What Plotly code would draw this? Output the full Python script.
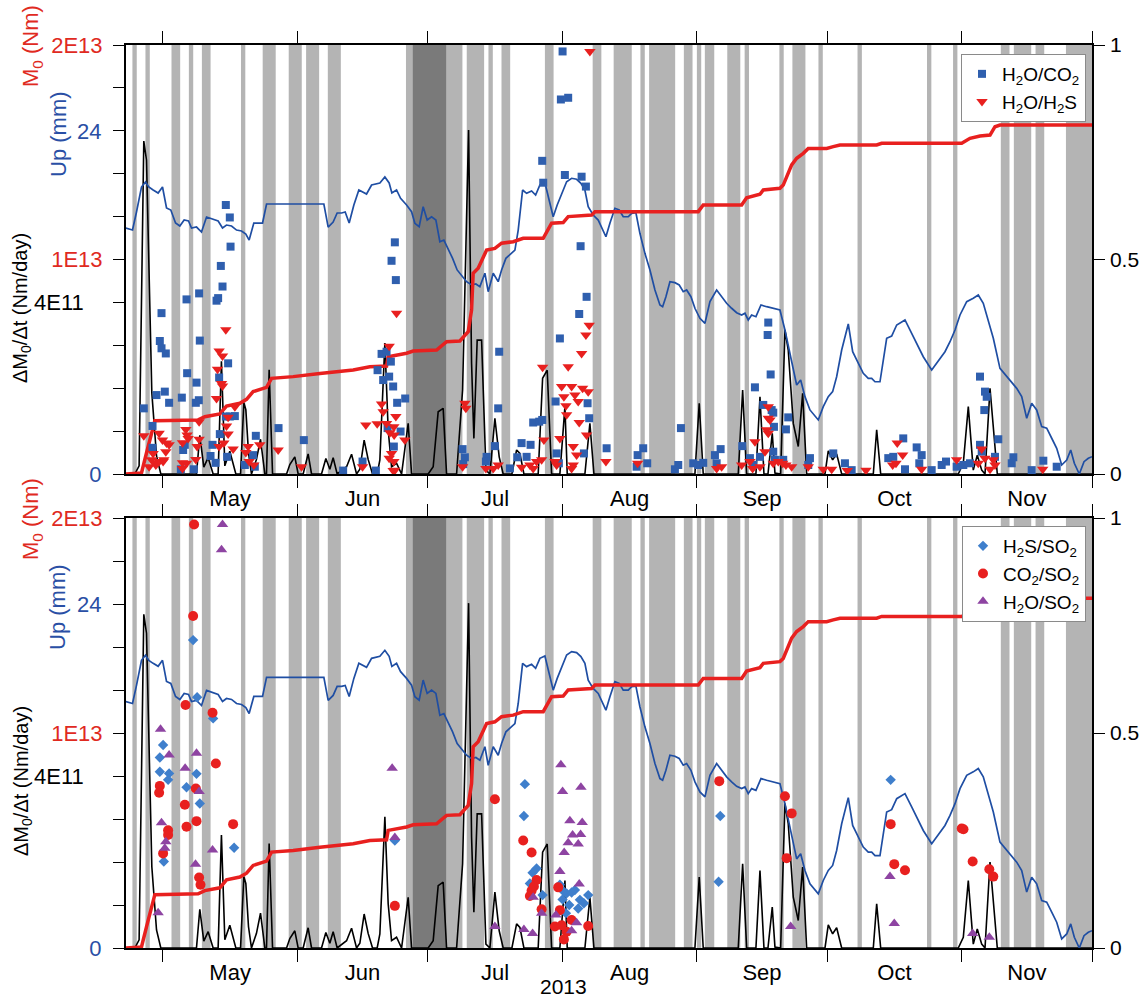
import pandas as pd
import plotly.graph_objects as go

# ---------------- data (days counted from 2013-05-01) ----------------
UP_DAY = [-8.52, -6.98, -6.06, -4.91, -3.99, -3.23, -2.23, -1.08, -0.07, 0.85,
          1.84, 2.93, 3.92, 4.91, 5.92, 6.61, 7.76, 8.91, 10.07, 11.22,
          12.74, 13.75, 14.67, 15.83, 16.98, 18.13, 19.12, 19.88, 20.96, 22.97,
          23.89, 37.09, 38.08, 39.23, 40.15, 41.17, 42.0, 42.92, 44.0, 45.15,
          46.14, 46.92, 48.08, 49.07, 49.99, 51.14, 52.13, 52.75, 53.83, 54.76,
          56.14, 57.29, 58.05, 59.04, 59.96, 60.88, 61.9, 62.89, 63.81, 64.73,
          65.72, 66.74, 67.79, 68.65, 69.96, 71.11, 72.1, 73.02, 74.18, 74.94,
          76.09, 77.24, 78.02, 79.01, 79.94, 81.09, 81.85, 82.86, 83.78, 84.93,
          85.86, 86.85, 88.0, 88.76, 89.91, 90.83, 91.85, 93.0, 94.15, 95.3,
          96.29, 97.21, 97.97, 99.12, 100.28, 101.29, 102.05, 102.97, 104.12, 105.11,
          106.04, 107.19, 107.97, 108.96, 109.88, 111.03, 112.19, 113.34, 114.49, 115.11,
          115.87, 116.79, 117.94, 118.93, 119.86, 120.64, 121.63, 122.55, 123.7, 124.86,
          126.01, 127.55, 128.7, 129.85, 131.0, 132.16, 133.31, 134.07, 134.83, 135.61,
          136.6, 137.76, 139.07, 140.59, 142.13, 143.28, 144.83, 145.98, 146.9, 147.89,
          149.04, 150.96, 152.11, 153.26, 154.27, 155.19, 156.35, 157.87, 158.88, 159.94,
          161.32, 162.47, 163.26, 164.02, 165.17, 166.71, 167.86, 169.02, 170.93, 172.47,
          173.62, 175.14, 177.08, 178.99, 180.14, 181.3, 182.45, 183.6, 185.14, 186.66,
          187.81, 188.96, 190.12, 191.27, 192.81, 194.72, 196.66, 197.81, 198.96, 200.11,
          201.26, 202.42, 203.57, 204.72, 205.87, 207.02, 208.18, 209.1, 209.93, 211.08,
          212.16, 213.15, 214.0]
UP_MM = [17.2, 17.06, 18.32, 20.07, 20.42, 20.07, 19.86, 19.65, 20.07, 18.6,
         18.46, 17.55, 17.34, 17.76, 17.69, 17.2, 17.27, 16.92, 17.97, 17.83,
         17.69, 17.2, 17.41, 17.34, 17.06, 16.99, 16.78, 16.36, 17.55, 17.55,
         18.88, 18.88, 17.27, 17.62, 18.25, 18.25, 18.32, 17.55, 18.81, 19.86,
         19.72, 19.58, 20.21, 20.28, 20.35, 20.77, 20.35, 19.65, 19.86, 19.28,
         18.81, 18.34, 17.53, 17.29, 18.69, 17.76, 17.99, 17.76, 16.24, 16.36,
         15.78, 15.08, 14.27, 13.92, 13.45, 13.22, 13.29, 13.1, 14.04, 12.75,
         14.04, 13.45, 14.27, 15.08, 15.31, 15.66, 17.06, 19.86, 19.63, 19.79,
         19.51, 20.21, 20.37, 19.39, 17.99, 18.81, 19.63, 20.44, 20.68, 20.61,
         20.33, 19.86, 18.69, 18.11, 17.76, 17.06, 16.59, 17.53, 18.58, 18.46,
         17.99, 17.99, 18.23, 18.27, 16.83, 15.43, 14.27, 12.87, 11.82, 11.7,
         12.4, 13.45, 13.38, 13.22, 12.75, 12.87, 12.4, 11.59, 10.89, 10.54,
         12.05, 12.87, 12.4, 11.94, 11.59, 11.28, 11.12, 11.24, 10.77, 11.12,
         11.0, 11.82, 11.7, 11.59, 11.47, 10.07, 7.74, 6.22, 6.57, 5.41,
         4.48, 3.78, 4.71, 5.41, 5.76, 6.8, 8.67, 10.49, 8.55, 7.85,
         7.04, 6.69, 6.69, 6.45, 6.45, 9.49, 9.65, 10.42, 10.77, 9.84,
         9.14, 8.2, 7.27, 8.09, 8.55, 9.25, 10.07, 11.12, 12.05, 12.29,
         12.52, 11.94, 10.77, 9.49, 7.39, 6.69, 5.99, 5.41, 3.9, 4.94,
         4.48, 3.31, 3.2, 2.5, 1.8, 0.63, 0.98, 1.68, 0.75, 0.0,
         0.86, 1.1, 1.21]

M0_DAY = [-8.52, -4.91, -3.76, -2.6, -1.84, 8.13, 9.67, 13.13, 14.67, 17.74,
          19.28, 20.8, 23.89, 25.04, 30.02, 36.17, 43.84, 47.68, 51.53, 51.9,
          56.14, 57.66, 63.05, 65.35, 68.42, 70.33, 71.11, 71.48, 72.63, 74.57,
          76.48, 78.02, 80.7, 83.0, 87.61, 89.54, 92.21, 93.36, 98.76, 99.52,
          123.31, 124.46, 133.31, 134.46, 137.53, 138.29, 142.13, 142.89, 144.83, 145.98,
          147.5, 148.65, 152.89, 154.41, 155.95, 164.41, 165.56, 183.99, 185.9, 188.21,
          190.51, 191.66, 192.81, 214.0]
M0_E13 = [0, 0.005, 0.098, 0.19, 0.248, 0.252, 0.267, 0.28, 0.317, 0.33,
          0.348, 0.384, 0.404, 0.446, 0.454, 0.469, 0.485, 0.5, 0.503, 0.547,
          0.563, 0.573, 0.578, 0.617, 0.62, 0.663, 0.765, 0.936, 0.959, 1.044,
          1.052, 1.076, 1.083, 1.099, 1.099, 1.169, 1.172, 1.2, 1.207, 1.223,
          1.223, 1.254, 1.254, 1.288, 1.304, 1.324, 1.332, 1.347, 1.441, 1.472,
          1.495, 1.518, 1.518, 1.526, 1.534, 1.534, 1.542, 1.542, 1.565, 1.576,
          1.58, 1.619, 1.627, 1.627]

RATE_DAY = [-8.52, -6.45, -5.46, -4.38, -3.76, -3.16, -2.53, -1.45, -0.46, 7.75,
            8.52, 9.44, 10.44, 11.59, 12.74, 13.5, 14.28, 15.43, 16.2, 16.82,
            17.9, 18.66, 19.12, 19.73, 20.42, 21.57, 22.5, 23.5, 23.88, 24.49,
            25.27, 28.5, 29.25, 30.4, 31.17, 32.32, 33.47, 34.25, 36.55, 37.55,
            38.47, 39.23, 40.15, 41.16, 42.32, 43.47, 44.62, 45.38, 46.37, 47.29,
            48.3, 49.37, 49.99, 51.14, 51.9, 52.68, 53.83, 54.99, 56.51, 57.29,
            61.12, 62.27, 63.42, 64.57, 65.35, 67.66, 69.04, 70.42, 71.11, 71.64,
            72.4, 73.42, 74.41, 75.33, 76.48, 77.47, 78.39, 80.4, 81.48, 82.24,
            83.16, 86.45, 87.47, 88.53, 89.54, 91.45, 92.61, 93.14, 97.21, 98.36,
            99.29, 122.55, 123.54, 124.46, 132.53, 133.54, 134.46, 136.6, 137.53, 138.45,
            139.37, 140.36, 140.98, 142.29, 143.28, 144.04, 145.2, 146.35, 147.36, 148.28,
            152.5, 153.26, 154.27, 155.19, 156.35, 163.63, 164.41, 165.33, 183.2, 184.36,
            185.51, 186.66, 187.58, 188.6, 189.36, 190.51, 191.27, 192.19, 214.0]
RATE_E11 = [0, 0, 0.19, 7.76, 7.32, 4.99, 1.89, 0.42, 0, 0,
            0.9, 0.16, 0.38, 0, 0, 2.63, 0.19, 0.53, 0.26, 0,
            0, 1.66, 1.5, 0.5, 0, 0.34, 0.81, 0, 0, 2.43,
            0, 0, 0.22, 0.4, 0, 0, 0.47, 0, 0, 0.36,
            0.11, 0.38, 0, 0.07, 0.17, 0.46, 0, 0.11, 0.79, 0.34,
            0, 0, 0.33, 3.05, 1.03, 0.17, 0.25, 0, 1.18, 0,
            0, 0.17, 1.45, 1.53, 0, 0, 1.96, 8.02, 2.58, 0.83,
            3.12, 3.12, 0.09, 0, 1.3, 0.4, 0, 0, 0.56, 0.48,
            0, 0, 2.23, 2.42, 0, 0, 1.57, 0, 0, 1.18,
            0, 0, 1.65, 0, 0, 1.96, 0, 0, 1.8, 0,
            0, 0.95, 0.02, 0, 3.36, 2.89, 1.18, 0.64, 1.88, 0,
            0, 0.54, 0.33, 0.47, 0, 0, 1.03, 0, 0, 0.25,
            1.57, 0.09, 0.44, 0.09, 0, 2.0, 1.03, 0, 0]

# ratio scatter series: (day, ratio)
H2O_CO2 = [(13.75, 0.437), (8.36, 0.421), (5.46, 0.407), (12.37, 0.404), (12.74, 0.41), (-0.3, 0.375),
           (8.52, 0.311), (-0.69, 0.31), (-0.3, 0.293), (0.69, 0.281), (5.6, 0.235), (7.76, 0.213),
           (15.04, 0.258), (12.97, 0.225), (-1.45, 0.184), (0.46, 0.192), (1.45, 0.166), (4.38, 0.178),
           (7.6, 0.166), (8.29, 0.172), (-4.38, 0.153), (-2.37, 0.112), (21.42, 0.089), (26.65, 0.107),
           (32.48, 0.079), (13.13, 0.093), (11.45, 0.068), (10.99, 0.042), (12.14, 0.026), (14.81, 0.04),
           (4.68, 0.056), (5.07, 0.068), (7.14, 0.011), (4.15, 0.011), (-2.37, 0.061), (15.43, 0.134),
           (16.59, 0.135), (14.51, 0.134), (53.67, 0.452), (50.38, 0.28), (51.53, 0.285), (52.52, 0.262),
           (49.46, 0.242), (50.75, 0.219), (52.13, 0.227), (53.05, 0.204), (53.97, 0.166), (55.82, 0.176),
           (54.76, 0.099), (53.21, 0.064), (51.76, 0.107), (46.0, 0.029), (49.07, 0.008), (41.53, 0.008),
           (20.8, 0.044), (21.19, 0.017), (18.89, 0.021), (14.51, 0.627), (15.43, 0.598), (15.6, 0.53),
           (13.36, 0.485), (53.44, 0.54), (52.68, 0.497), (77.47, 0.285), (77.24, 0.153), (76.48, 0.065),
           (74.57, 0.04), (69.04, 0.058), (69.57, 0.039), (69.18, 0.023), (74.41, 0.029), (79.93, 0.013),
           (82.63, 0.072), (84.7, 0.068), (81.62, 0.039), (83.78, 0.04), (85.3, 0.12), (86.69, 0.122),
           (87.38, 0.126), (87.38, 0.73), (87.61, 0.679), (90.46, 0.169), (91.45, 0.316), (92.07, 0.985),
           (91.68, 0.873), (93.36, 0.877), (92.6, 0.697), (96.45, 0.693), (97.44, 0.67), (96.22, 0.531),
           (97.6, 0.413), (95.9, 0.373), (97.83, 0.165), (98.2, 0.13), (90.69, 0.048), (91.22, 0.025),
           (96.98, 0.048), (102.21, 0.06), (109.35, 0.044), (110.64, 0.06), (111.56, 0.025), (109.12, 0.017),
           (119.33, 0.107), (118.71, 0.021), (117.94, 0.011), (122.16, 0.025), (123.31, 0.021), (124.46, 0.026),
           (127.16, 0.044), (128.47, 0.058), (127.55, 0.025), (133.45, 0.065), (136.37, 0.202), (139.44, 0.353),
           (139.3, 0.324), (139.99, 0.232), (138.29, 0.161), (140.22, 0.149), (135.22, 0.037), (135.98, 0.021),
           (137.53, 0.04), (140.59, 0.143), (140.75, 0.11), (144.04, 0.132), (143.51, 0.104), (140.59, 0.052),
           (140.98, 0.033), (142.89, 0.033), (149.04, 0.037), (148.65, 0.021), (154.41, 0.048), (157.1, 0.025),
           (158.65, 0.009), (167.08, 0.037), (168.23, 0.04), (170.53, 0.083), (173.62, 0.062), (174.77, 0.044),
           (174.22, 0.025), (170.93, 0.011), (177.08, 0.009), (179.38, 0.021), (180.37, 0.029), (182.83, 0.017),
           (184.36, 0.021), (185.9, 0.025), (188.2, 0.227), (189.36, 0.192), (189.75, 0.18), (189.2, 0.149),
           (188.2, 0.068), (188.6, 0.052), (192.42, 0.081), (191.66, 0.04), (195.88, 0.039), (195.51, 0.025),
           (200.11, 0.009), (202.79, 0.031), (205.87, 0.017)]

H2O_H2S = [(14.51, 0.336), (12.97, 0.287), (13.75, 0.275), (12.6, 0.244), (13.75, 0.205), (12.37, 0.176),
           (16.59, 0.157), (15.04, 0.132), (14.67, 0.112), (15.04, 0.093), (14.05, 0.072), (16.19, 0.058),
           (12.97, 0.064), (8.36, 0.122), (5.3, 0.104), (5.6, 0.091), (8.36, 0.081), (7.9, 0.064),
           (7.6, 0.034), (4.54, 0.073), (4.54, 0.026), (4.54, 0.013), (5.46, 0.025), (1.45, 0.068),
           (0.69, 0.052), (-0.85, 0.095), (-0.07, 0.079), (-4.38, 0.089), (-2.23, 0.048), (-3.16, 0.017),
           (-0.85, 0.029), (-1.61, 0.021), (0.07, 0.029), (19.65, 0.064), (19.12, 0.05), (20.96, 0.021),
           (19.88, 0.029), (22.34, 0.068), (26.56, 0.056), (31.95, 0.017), (46.0, 0.017), (46.76, 0.114),
           (49.37, 0.117), (50.38, 0.163), (50.75, 0.145), (52.13, 0.298), (53.83, 0.375), (51.53, 0.118),
           (53.21, 0.11), (53.67, 0.134), (52.29, 0.096), (53.28, 0.091), (55.75, 0.079), (52.68, 0.048),
           (53.21, 0.029), (52.13, 0.037), (53.44, 0.009), (-2.6, 0.033), (-1.45, 0.025), (0.23, 0.033),
           (0.85, 0.072), (5.83, 0.083), (13.52, 0.211), (53.05, 0.008), (98.36, 0.985), (69.57, 0.165),
           (69.8, 0.153), (69.04, 0.017), (74.41, 0.013), (76.09, 0.013), (77.24, 0.021), (82.63, 0.016),
           (84.54, 0.021), (86.08, 0.029), (87.24, 0.033), (85.3, 0.013), (87.47, 0.249), (87.77, 0.079),
           (90.69, 0.021), (91.45, 0.083), (90.3, 0.029), (91.85, 0.204), (93.36, 0.25), (92.37, 0.18),
           (92.84, 0.159), (93.0, 0.138), (94.15, 0.204), (94.91, 0.184), (95.67, 0.169), (96.68, 0.2),
           (97.97, 0.192), (95.9, 0.12), (97.6, 0.091), (94.52, 0.064), (95.3, 0.044), (94.52, 0.021),
           (94.15, 0.013), (96.45, 0.281), (97.44, 0.324), (98.2, 0.347), (102.05, 0.029), (109.35, 0.025),
           (127.55, 0.013), (128.7, 0.017), (133.31, 0.021), (135.22, 0.029), (136.37, 0.075), (135.84, 0.013),
           (137.53, 0.017), (138.68, 0.052), (139.44, 0.157), (139.44, 0.13), (139.44, 0.095), (139.83, 0.126),
           (139.07, 0.103), (140.59, 0.025), (141.75, 0.029), (142.76, 0.025), (143.51, 0.021), (144.83, 0.017),
           (148.65, 0.017), (152.11, 0.011), (154.04, 0.011), (157.63, 0.008), (161.94, 0.009), (169.15, 0.072),
           (170.39, 0.044), (168.09, 0.021), (168.85, 0.025), (174.77, 0.011), (182.83, 0.033), (188.6, 0.058),
           (189.36, 0.037), (187.81, 0.025), (191.27, 0.033), (191.66, 0.021), (190.51, 0.011), (202.65, 0.011)]

H2S_SO2 = [(6.98, 0.716), (7.9, 0.583), (11.59, 0.534), (0.07, 0.472), (-0.69, 0.443), (-0.69, 0.41),
           (1.45, 0.406), (1.22, 0.391), (5.46, 0.374), (7.76, 0.405), (8.52, 0.336), (0.23, 0.201),
           (16.42, 0.233), (53.44, 0.25), (83.39, 0.381), (83.16, 0.307), (86.08, 0.185), (85.16, 0.175),
           (84.54, 0.15), (87.47, 0.123), (91.45, 0.147), (92.07, 0.113), (93.0, 0.127), (94.15, 0.129),
           (94.91, 0.135), (96.06, 0.112), (96.98, 0.104), (97.97, 0.123), (93.6, 0.1), (92.84, 0.081),
           (94.15, 0.065), (128.39, 0.307), (128.0, 0.154), (92.37, 0.131), (95.67, 0.092), (167.63, 0.391)]

CO2_SO2 = [(7.21, 0.985), (6.98, 0.772), (5.23, 0.565), (11.45, 0.547), (12.21, 0.429), (-0.69, 0.377),
           (-0.85, 0.361), (5.07, 0.333), (7.6, 0.371), (5.46, 0.282), (7.76, 0.295), (16.19, 0.288),
           (1.22, 0.274), (1.22, 0.263), (0.07, 0.22), (8.36, 0.164), (8.68, 0.147), (53.44, 0.098),
           (76.48, 0.346), (83.0, 0.25), (84.93, 0.222), (86.08, 0.158), (85.46, 0.143), (84.93, 0.133),
           (84.54, 0.121), (87.24, 0.09), (91.06, 0.141), (91.45, 0.088), (90.3, 0.05), (91.85, 0.053),
           (94.15, 0.065), (93.0, 0.038), (92.37, 0.02), (97.97, 0.051), (128.15, 0.388), (143.28, 0.353),
           (144.83, 0.313), (143.67, 0.209), (167.63, 0.288), (168.46, 0.195), (170.93, 0.181), (183.99, 0.278),
           (184.4, 0.276), (186.52, 0.201), (190.35, 0.183), (191.27, 0.166)]

H2O_SO2 = [(13.75, 0.985), (13.52, 0.926), (-0.53, 0.509), (1.45, 0.449), (5.14, 0.418), (7.76, 0.453),
           (8.36, 0.364), (-0.3, 0.291), (0.69, 0.247), (0.46, 0.232), (7.53, 0.195), (11.45, 0.228),
           (-1.08, 0.082), (52.82, 0.418), (53.44, 0.257), (91.68, 0.426), (92.07, 0.364), (96.29, 0.374),
           (93.75, 0.296), (96.59, 0.292), (94.38, 0.263), (96.22, 0.264), (93.36, 0.245), (95.67, 0.242),
           (92.44, 0.222), (91.45, 0.178), (95.9, 0.149), (85.3, 0.118), (87.24, 0.081), (90.53, 0.077),
           (95.3, 0.059), (94.15, 0.04), (76.48, 0.05), (83.16, 0.043), (85.16, 0.034), (144.6, 0.05),
           (167.47, 0.166), (168.46, 0.057), (186.52, 0.034), (190.35, 0.025)]

BANDS_LIGHT = [("2013-04-24", "2013-04-25"), ("2013-04-27", "2013-04-28"), ("2013-05-03", "2013-05-05"),
               ("2013-05-07", "2013-05-08"), ("2013-05-10", "2013-05-12"), ("2013-05-19", "2013-05-20"),
               ("2013-05-24", "2013-05-27"), ("2013-05-30", "2013-06-02"), ("2013-06-03", "2013-06-06"),
               ("2013-06-08", "2013-06-11"), ("2013-06-26", "2013-06-27 12:00"),
               ("2013-07-05 08:00", "2013-07-09"), ("2013-07-10", "2013-07-14"), ("2013-07-15", "2013-07-16"),
               ("2013-07-18", "2013-07-20"), ("2013-07-28", "2013-07-30"), ("2013-08-08", "2013-08-10"),
               ("2013-08-12 20:00", "2013-08-17"), ("2013-08-19", "2013-08-20"), ("2013-08-21", "2013-08-27"),
               ("2013-08-29", "2013-08-31"), ("2013-09-01", "2013-09-02"), ("2013-09-02 20:00", "2013-09-05"),
               ("2013-09-08", "2013-09-11"), ("2013-09-12", "2013-09-13"), ("2013-09-20", "2013-09-21"),
               ("2013-09-23", "2013-09-26"), ("2013-09-29", "2013-09-30"), ("2013-10-08", "2013-10-09"),
               ("2013-10-24", "2013-10-25"), ("2013-10-30", "2013-10-31"), ("2013-11-10", "2013-11-12"),
               ("2013-11-13", "2013-11-17"), ("2013-11-18", "2013-11-20"), ("2013-11-25", "2013-12-01")]
BANDS_DARK = [("2013-06-27 12:00", "2013-07-05 08:00")]

MONTH_TICK0 = "2013-05-01"
X_RANGE = ["2013-04-22 12:30", "2013-12-01"]

# ---------------- styling ----------------
FONT = "Liberation Sans, Arial, Helvetica, sans-serif"
C_BLUE_LINE = "#1f4ea3"
C_BLUE_SQ = "#2f5fae"
C_BLUE_DI = "#3f7fcc"
C_RED = "#e8201f"
C_PURPLE = "#8e44a2"
C_LIGHT = "#b4b4b4"
C_DARK = "#7a7a7a"
C_LBL_RED = "#e02a1f"
C_LBL_BLUE = "#2a4fa5"
FS = 22

T0 = pd.Timestamp("2013-05-01")


def to_dates(days):
    return [T0 + pd.Timedelta(days=float(d)) for d in days]


fig = go.Figure()

panels = [
    dict(x="x", base="y", up="y2", m0="y3", ratio="y4",
         series=[(H2O_CO2, "H<sub>2</sub>O/CO<sub>2</sub>", "square", C_BLUE_SQ, 8),
                 (H2O_H2S, "H<sub>2</sub>O/H<sub>2</sub>S", "triangle-down", C_RED, 10)],
         legend="legend"),
    dict(x="x2", base="y5", up="y6", m0="y7", ratio="y8",
         series=[(H2S_SO2, "H<sub>2</sub>S/SO<sub>2</sub>", "diamond", C_BLUE_DI, 8),
                 (CO2_SO2, "CO<sub>2</sub>/SO<sub>2</sub>", "circle", C_RED, 10),
                 (H2O_SO2, "H<sub>2</sub>O/SO<sub>2</sub>", "triangle-up", C_PURPLE, 10)],
         legend="legend2"),
]

for p in panels:
    fig.add_trace(go.Scatter(x=to_dates(RATE_DAY), y=[v * 1e11 for v in RATE_E11], mode="lines",
                             line=dict(color="black", width=1.6), xaxis=p["x"], yaxis=p["base"],
                             showlegend=False, hoverinfo="skip"))
    fig.add_trace(go.Scatter(x=to_dates(UP_DAY), y=UP_MM, mode="lines",
                             line=dict(color=C_BLUE_LINE, width=1.7), xaxis=p["x"], yaxis=p["up"],
                             showlegend=False, hoverinfo="skip"))
    fig.add_trace(go.Scatter(x=to_dates(M0_DAY), y=[v * 1e13 for v in M0_E13], mode="lines",
                             line=dict(color=C_RED, width=3.5), xaxis=p["x"], yaxis=p["m0"],
                             showlegend=False, hoverinfo="skip"))
    for data, name, sym, col, size in p["series"]:
        fig.add_trace(go.Scatter(x=to_dates([d for d, _ in data]), y=[v for _, v in data], mode="markers",
                                 marker=dict(symbol=sym, color=col, size=size, line=dict(width=0)),
                                 name=name, xaxis=p["x"], yaxis=p["ratio"], legend=p["legend"],
                                 cliponaxis=False))

# gray bands (shared by both panels)
shapes = []
for xr, yr in [("x", "y domain"), ("x2", "y5 domain")]:
    for s, e in BANDS_LIGHT:
        shapes.append(dict(type="rect", xref=xr, yref=yr, x0=s, x1=e, y0=0, y1=1,
                           fillcolor=C_LIGHT, line=dict(width=0), layer="below"))
    for s, e in BANDS_DARK:
        shapes.append(dict(type="rect", xref=xr, yref=yr, x0=s, x1=e, y0=0, y1=1,
                           fillcolor=C_DARK, line=dict(width=0), layer="below"))

W, H = 1146, 1000
ML, MR, MT, MB = 126, 54, 45, 52
PW, PH = W - ML - MR, H - MT - MB


def py(pix):  # pixel row -> paper y
    return (H - MB - pix) / PH


def px(pix):  # pixel column -> paper x
    return (pix - ML) / PW


TOP_DOM = [py(474), py(45)]
BOT_DOM = [py(948), py(518)]

xcommon = dict(type="date", range=X_RANGE, tick0=MONTH_TICK0, dtick="M1", tickformat="%b",
               ticklabelmode="period", ticks="outside", ticklen=12, tickwidth=1, tickcolor="black",
               showline=True, linecolor="black", linewidth=1.5, mirror="ticks", automargin=False,
               showgrid=False, zeroline=False, tickfont=dict(size=FS, color="black"),
               ticklabelstandoff=-8)

layout = dict(
    width=W, height=H, autosize=False, margin=dict(l=ML, r=MR, t=MT, b=MB, pad=0, autoexpand=False),
    paper_bgcolor="white", plot_bgcolor="white",
    font=dict(family=FONT, size=20, color="black"),
    shapes=shapes,
    xaxis=dict(domain=[0, 1], anchor="y", **xcommon),
    xaxis2=dict(domain=[0, 1], anchor="y5", **xcommon),
)

for p, dom in [(panels[0], TOP_DOM), (panels[1], BOT_DOM)]:
    bk = "yaxis" + p["base"][1:]
    upk = "yaxis" + p["up"][1:]
    m0k = "yaxis" + p["m0"][1:]
    rk = "yaxis" + p["ratio"][1:]
    layout[bk] = dict(domain=dom, anchor=p["x"], range=[0, 1e12], tickmode="array",
                      tickvals=[4e11], ticktext=["4E11"], automargin=False,
                      ticks="outside", ticklen=11, tickcolor="black", showline=True, mirror=True,
                      linecolor="black", linewidth=1.5, showgrid=False, zeroline=False,
                      minor=dict(tickmode="linear", tick0=0, dtick=1e11, ticks="outside",
                                 ticklen=11, tickcolor="black", showgrid=False),
                      tickfont=dict(size=FS, color="black"), ticklabelstandoff=25)
    layout[upk] = dict(overlaying=p["base"], anchor=p["x"], side="left", range=[0, 30],
                       tickmode="array", tickvals=[0, 24], ticktext=["0", "24"], automargin=False,
                       ticks="outside", ticklen=11, tickcolor="black", showline=False,
                       showgrid=False, zeroline=False, tickfont=dict(size=FS, color=C_LBL_BLUE),
                       ticklabelstandoff=8)
    layout[m0k] = dict(overlaying=p["base"], anchor=p["x"], side="left", range=[0, 2e13],
                       tickmode="array", tickvals=[1e13, 2e13], ticktext=["1E13", "2E13"],
                       automargin=False,
                       ticks="outside", ticklen=11, tickcolor="black", showline=False,
                       showgrid=False, zeroline=False, tickfont=dict(size=FS, color=C_LBL_RED),
                       ticklabelstandoff=7)
    layout[rk] = dict(overlaying=p["base"], anchor=p["x"], side="right", range=[0, 1],
                      tickmode="array", tickvals=[0, 0.5, 1], ticktext=["0", "0.5", "1"],
                      automargin=False,
                      ticks="outside", ticklen=11, tickcolor="black", showline=True,
                      linecolor="black", linewidth=1.5,
                      showgrid=False, zeroline=False, tickfont=dict(size=21, color="black"),
                      ticklabelstandoff=1)

leg = dict(xanchor="right", yanchor="top", bgcolor="white", bordercolor="#8a8a8a", borderwidth=1,
           font=dict(size=19, family=FONT), tracegroupgap=0, itemwidth=30)
layout["legend"] = dict(x=px(1086), y=py(54), **leg)
layout["legend2"] = dict(x=px(1086), y=py(526), **leg)

ann = []
for off in (0, 473):
    ann.append(dict(text="M<sub>0</sub> (Nm)", x=px(32), y=py(3 + off), xref="paper", yref="paper",
                    textangle=-90, showarrow=False, font=dict(size=FS, color=C_LBL_RED),
                    xanchor="center", yanchor="top"))
    ann.append(dict(text="Up (mm)", x=px(58), y=py(134 + off), xref="paper", yref="paper",
                    textangle=-90, showarrow=False, font=dict(size=FS, color=C_LBL_BLUE),
                    xanchor="center", yanchor="middle"))
    ann.append(dict(text="ΔM<sub>0</sub>/Δt (Nm/day)", x=px(22), y=py(308 + off), xref="paper",
                    yref="paper", textangle=-90, showarrow=False, font=dict(size=20, color="black"),
                    xanchor="center", yanchor="middle"))
ann.append(dict(text="2013", x=px(563), y=py(986), xref="paper", yref="paper", showarrow=False,
                font=dict(size=21, color="black"), xanchor="center", yanchor="middle"))
layout["annotations"] = ann

fig.update_layout(**layout)
fig.write_html(
    "out.html",
    config={"displayModeBar": False, "responsive": False},
    post_script=("document.documentElement.style.margin='0px';"
                 "document.body.style.margin='0px';"
                 "document.documentElement.style.overflow='hidden';"
                 "document.body.style.overflow='hidden';"),
)
